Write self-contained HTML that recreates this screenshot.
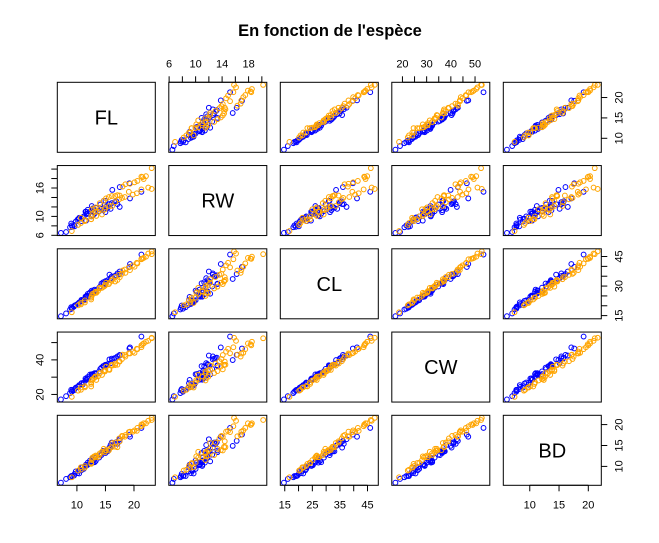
<!DOCTYPE html>
<html><head><meta charset="utf-8"><style>
body{margin:0;background:#fff}
svg{display:block;font-family:"Liberation Sans",Arial,sans-serif}
</style></head><body>
<svg id="chart" width="659" height="543" viewBox="0 0 659 543">
<rect width="659" height="543" fill="#fff"/>
<text x="330" y="36" text-anchor="middle" font-size="16.5" font-weight="bold">En fonction de l'espèce</text>
</svg>
<script>
const varNames = ["FL","RW","CL","CW","BD"];
const varMin = [7.2, 6.5, 14.7, 17.1, 6.1];
const varMax = [23.1, 20.2, 47.6, 54.6, 21.6];
const blueFL = [8.1,8.8,9.2,9.6,10.8,11.6,11.8,12.3,12.6,12.8,12.9,13.1,13.3,13.9,14.3,14.6,15.0,15.0,15.2,15.4,15.7,15.9,16.1,16.6,16.9,17.1,17.5,19.3,21.3,7.2,9.0,9.1,9.5,9.8,10.1,10.3,10.4,10.8,11.0,11.2,11.5,11.6,11.7,11.9,12.0,12.6,12.8,13.3,14.1,14.7,15.0,16.2,17.5,19.2];
const blueRW = [6.7,7.7,7.8,7.9,9.0,9.1,10.5,11.0,10.0,10.2,11.0,10.6,11.1,11.1,11.6,11.3,10.9,11.9,12.1,11.8,12.6,11.6,12.8,13.0,13.2,12.6,12.0,13.8,15.2,6.5,8.5,8.1,8.2,8.9,9.3,9.5,9.7,9.5,9.8,10.0,11.0,11.0,10.6,11.4,10.7,12.2,11.7,11.8,12.5,13.3,13.3,15.6,16.2,17.0];
const blueCL = [16.1,18.1,19.0,20.1,23.0,24.5,25.2,26.8,27.7,27.2,26.8,28.2,27.8,29.2,31.3,31.9,31.4,32.5,32.3,33.0,35.8,34.0,34.9,35.1,35.5,36.4,37.4,41.2,46.0,14.7,19.3,18.5,19.6,20.4,20.9,21.3,21.7,22.5,22.5,22.8,24.7,24.6,24.9,26.0,24.6,26.1,27.1,27.3,29.8,31.2,31.0,33.6,36.1,39.7];
const blueCW = [19.0,20.8,22.4,23.1,26.5,28.4,29.3,31.5,31.7,31.8,30.9,32.3,32.3,33.3,35.5,36.4,36.4,37.2,36.7,37.5,40.3,38.1,40.7,41.0,41.3,42.0,42.5,47.2,53.5,17.1,22.7,21.6,22.4,23.9,24.4,24.7,25.4,26.3,25.7,26.9,29.2,28.5,28.5,30.1,28.9,31.6,31.2,31.8,34.8,36.5,36.9,39.9,42.9,46.6];
const blueBD = [7.0,7.4,7.7,8.2,9.8,10.4,10.3,11.4,11.4,10.9,11.4,11.0,11.3,12.1,12.7,13.7,13.2,13.6,13.6,13.6,14.5,15.1,15.7,15.4,15.8,15.4,16.5,17.1,19.2,6.1,7.7,7.7,7.8,8.8,8.4,8.9,8.3,9.1,9.8,9.4,10.1,10.4,10.4,10.9,10.5,11.2,11.9,12.1,12.8,13.4,13.8,14.9,16.1,17.6];
const orangeFL = [9.1,10.2,10.7,11.4,12.5,12.5,12.7,13.2,13.4,13.7,14.0,14.4,14.9,15.0,15.7,16.2,16.7,17.4,17.9,18.4,19.1,19.8,20.5,21.3,22.5,23.1,10.7,11.4,12.5,12.6,13.0,13.3,14.0,14.7,15.1,15.6,16.1,16.7,17.1,17.5,18.0,18.5,19.3,20.1,20.6,21.3,21.5,21.7,22.1,23.1];
const orangeRW = [6.9,8.2,8.6,9.0,9.4,9.4,10.4,11.0,10.1,11.0,11.5,10.4,11.5,11.9,12.2,12.2,13.0,13.6,13.9,14.1,15.2,14.6,14.9,15.7,16.1,15.8,9.7,9.2,10.0,11.5,11.6,11.9,12.8,13.3,13.8,14.1,14.3,14.3,14.5,14.4,16.3,16.8,16.9,17.2,17.5,18.4,18.3,17.9,18.5,20.2];
const orangeCL = [16.7,20.2,20.7,22.7,23.2,24.2,26.0,27.1,26.6,27.5,29.2,29.1,30.1,30.6,31.7,33.5,34.6,35.7,36.2,38.4,39.5,40.5,41.8,43.6,46.5,47.6,21.4,21.7,24.1,25.0,26.3,26.6,28.8,29.7,31.7,31.0,32.6,32.3,33.1,34.5,37.9,36.7,38.1,39.8,41.5,43.8,44.0,44.3,44.9,46.2];
const orangeCW = [18.6,22.2,22.7,24.8,24.6,26.1,28.8,30.4,28.4,30.5,32.2,31.3,33.3,33.9,34.2,36.7,37.9,39.2,40.5,42.8,43.8,44.8,46.4,47.3,51.0,52.8,24.0,24.1,27.0,28.1,29.5,30.2,32.4,33.5,36.1,34.5,37.2,37.0,37.2,39.0,43.0,41.9,43.7,44.1,46.2,48.4,49.0,49.5,50.5,52.5];
const orangeBD = [7.4,9.0,9.2,10.1,10.6,10.8,12.1,12.2,12.4,12.2,13.1,13.5,13.4,13.8,14.2,15.6,15.7,16.7,17.3,17.1,18.2,18.3,18.5,19.6,20.9,21.6,9.8,9.7,10.9,11.5,12.4,12.6,12.7,14.2,13.9,13.8,14.6,14.7,14.6,16.0,17.2,17.5,18.3,18.6,19.2,20.0,19.9,20.3,20.3,21.1];
const topTicks = {1:[6,8,10,12,14,16,18,20], 3:[20,25,30,35,40,45,50]};
const topLabels = {1:[6,10,14,18], 3:[20,30,40,50]};
const bottomTicks = {0:[10,15,20], 2:[15,20,25,30,35,40,45], 4:[10,15,20]};
const bottomLabels = {0:[10,15,20], 2:[15,25,35,45], 4:[10,15,20]};
const leftTicks = {1:[6,8,10,12,14,16,18,20], 3:[20,30,40,50]};
const leftLabels = {1:[6,10,16], 3:[20,40]};
const rightTicks = {0:[10,15,20], 2:[15,20,25,30,35,40,45], 4:[10,15,20]};
const rightLabels = {0:[10,15,20], 2:[15,30,45], 4:[10,15,20]};

const NS="http://www.w3.org/2000/svg";
const svg=document.getElementById('chart');
const X0=57.3, Y0=82.3, PW=98, PH=70, DX=111.5, DY=83.25;
function mk(t,a,p){const e=document.createElementNS(NS,t);for(const k in a)e.setAttribute(k,a[k]);(p||svg).appendChild(e);return e;}
function lo(v){const r=varMax[v]-varMin[v];return varMin[v]-0.04*r;}
function hi(v){const r=varMax[v]-varMin[v];return varMax[v]+0.04*r;}
function sx(col,v){return X0+col*DX+(v-lo(col))/(hi(col)-lo(col))*PW;}
function sy(row,v){return Y0+row*DY+PH-(v-lo(row))/(hi(row)-lo(row))*PH;}
const blue=[blueFL,blueRW,blueCL,blueCW,blueBD];
const orange=[orangeFL,orangeRW,orangeCL,orangeCW,orangeBD];
for(let r=0;r<5;r++)for(let c=0;c<5;c++){
  const g=mk('g',{});
  
  
  if(r===c){
    const t=mk('text',{x:X0+c*DX+PW/2,y:Y0+r*DY+PH/2+7,'text-anchor':'middle','font-size':'20'},g);
    t.textContent=varNames[r];
    
    
  } else {
    [[blue,'#0000ff'],[orange,'#ffa500']].forEach(([d,col])=>{
      for(let i=0;i<d[0].length;i++){
        const p=mk('circle',{cx:sx(c,d[c][i]),cy:sy(r,d[r][i]),r:2.4,fill:'none',stroke:col,'stroke-width':1},g);
        
        
      }
    });
  }
  const b=mk('rect',{x:X0+c*DX,y:Y0+r*DY,width:PW,height:PH,fill:'none',stroke:'#000','stroke-width':1},g);
  
  
}
function axis(kind,idx,ticks,labels){
  const g=mk('g',{stroke:'#000'});
  
  
  let pos=v=>(kind==='top'||kind==='bottom')?sx(idx,v):sy(idx,v);
  const fs=11;
  if(kind==='top'||kind==='bottom'){
    const y=kind==='top'?Y0:Y0+4*DY+PH;const d=kind==='top'?-1:1;
    mk('line',{x1:pos(ticks[0]),x2:pos(ticks[ticks.length-1]),y1:y+d*0,y2:y+d*0},g);
    ticks.forEach(v=>mk('line',{x1:pos(v),x2:pos(v),y1:y,y2:y+d*6},g));
    labels.forEach(v=>{const t=mk('text',{x:pos(v),y:kind==='top'?Y0-15:Y0+4*DY+PH+23,'text-anchor':'middle','font-size':fs,stroke:'none',fill:'#000'},g);t.textContent=v;});
  } else {
    const x=kind==='left'?X0:X0+4*DX+PW;const d=kind==='left'?-1:1;
    ticks.forEach(v=>mk('line',{x1:x,x2:x+d*6,y1:pos(v),y2:pos(v)},g));
    labels.forEach(v=>{const tx=kind==='left'?X0-14:X0+4*DX+PW+21;const t=mk('text',{x:tx,y:pos(v),'text-anchor':'middle','font-size':fs,stroke:'none',fill:'#000',transform:`rotate(-90 ${tx} ${pos(v)})`},g);t.textContent=v;});
  }
}
for(const k in topTicks)axis('top',+k,topTicks[k],topLabels[k]);
for(const k in bottomTicks)axis('bottom',+k,bottomTicks[k],bottomLabels[k]);
for(const k in leftTicks)axis('left',+k,leftTicks[k],leftLabels[k]);
for(const k in rightTicks)axis('right',+k,rightTicks[k],rightLabels[k]);
</script>
</body></html>
